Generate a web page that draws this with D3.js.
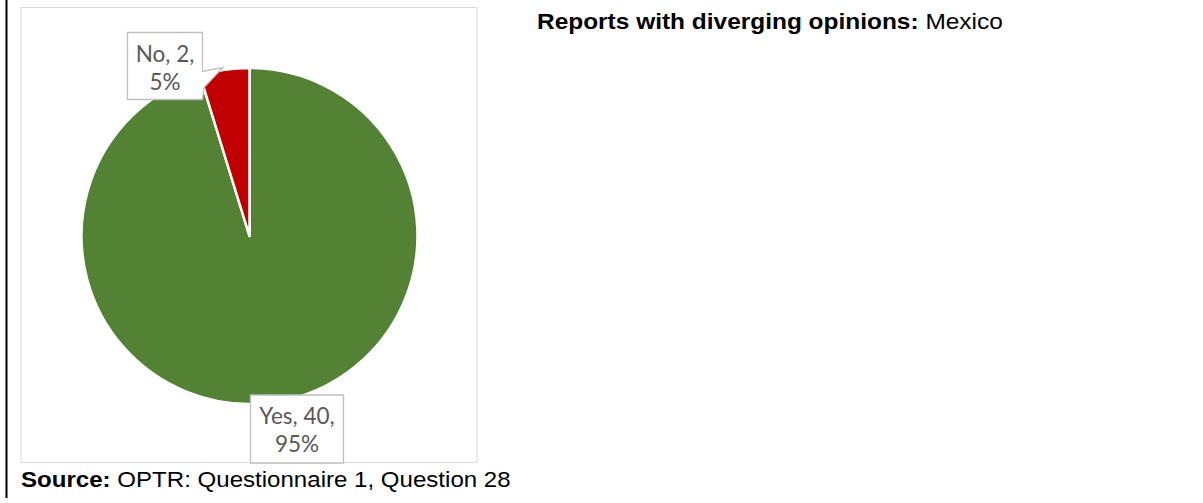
<!DOCTYPE html>
<html>
<head>
<meta charset="utf-8">
<script src="https://cdn.jsdelivr.net/npm/d3@7"></script>
<style>
  html, body { margin: 0; padding: 0; background: #fff; }
  svg { display: block; }
</style>
</head>
<body>
<svg id="chart" width="1203" height="503"></svg>
<script>
const categories = ["Yes", "No"];
const values = [40, 2];
const percentLabels = ["95%", "5%"];
const colors = ["#548235", "#C00000"];
const titleBold = "Reports with diverging opinions:";
const titleRest = " Mexico";
const sourceBold = "Source:";
const sourceRest = " OPTR: Questionnaire 1, Question 28";

const svg = d3.select("#chart");

// left black rule
svg.append("rect").attr("x", 5.5).attr("y", 0).attr("width", 2).attr("height", 498).attr("fill", "#000");

// chart frame
svg.append("rect").attr("x", 21).attr("y", 7.5).attr("width", 456).attr("height", 455)
  .attr("fill", "#fff").attr("stroke", "#d9d9d9").attr("stroke-width", 1);

const cx = 249.5, cy = 236, r = 168;
const data = categories.map((c, i) => ({ cat: c, value: values[i], pct: percentLabels[i], color: colors[i] }));
const pie = d3.pie().value(d => d.value).sort(null).startAngle(0).endAngle(2 * Math.PI);
const arc = d3.arc().innerRadius(0).outerRadius(r);
const arcs = pie(data);

const g = svg.append("g").attr("transform", `translate(${cx},${cy})`);
g.selectAll("path").data(arcs).join("path")
  .attr("d", arc)
  .attr("fill", d => d.data.color)
  .attr("stroke", "#fff")
  .attr("stroke-width", 2.5)
  .attr("stroke-linejoin", "round");

// data labels
const labelFont = "Lato, 'Open Sans', sans-serif";
const labelSize = 22.5;
const labels = [
  { box: [250.5, 395, 93, 68], lines: [`${categories[0]}, ${values[0]},`, percentLabels[0]], pointer: null },
  { box: [127.5, 32.5, 75, 67], lines: [`${categories[1]}, ${values[1]},`, percentLabels[1]], pointer: [223, 67.5] }
];

labels.forEach(l => {
  const [x, y, w, h] = l.box;
  let pts;
  if (l.pointer) {
    const [tx, ty] = l.pointer;
    pts = [[x, y], [x + w, y], [x + w, y + 39], [tx, ty], [x + w + 1.5, y + 55], [x + w, y + h], [x, y + h]];
  } else {
    pts = [[x, y], [x + w, y], [x + w, y + h], [x, y + h]];
  }
  svg.append("path")
    .attr("d", d3.line()(pts) + "Z")
    .attr("fill", "#fff")
    .attr("stroke", "#bfbfbf")
    .attr("stroke-width", 1.3);
  const t = svg.append("text")
    .attr("font-family", labelFont)
    .attr("font-size", labelSize)
    .attr("fill", "#595959")
    .attr("text-anchor", "middle");
  l.lines.forEach((s, i) => {
    t.append("tspan").attr("x", x + w / 2).attr("y", y + 29 + i * 28).text(s);
  });
});

// helper: text stretched horizontally to a target width
function stretchedText(x, y, size, bold, rest, targetW) {
  const grp = svg.append("g");
  const t = grp.append("text")
    .attr("x", 0).attr("y", 0)
    .attr("font-family", "'Liberation Sans', Arial, sans-serif")
    .attr("font-size", size).attr("fill", "#000");
  t.append("tspan").attr("font-weight", "bold").text(bold);
  t.append("tspan").text(rest);
  const w = t.node().getComputedTextLength();
  const sx = targetW / w;
  grp.attr("transform", `translate(${x},${y}) scale(${sx},1)`);
}

stretchedText(537, 28.5, 21.5, titleBold, titleRest, 466);
stretchedText(21, 487, 21.5, sourceBold, sourceRest, 490);
</script>
</body>
</html>
